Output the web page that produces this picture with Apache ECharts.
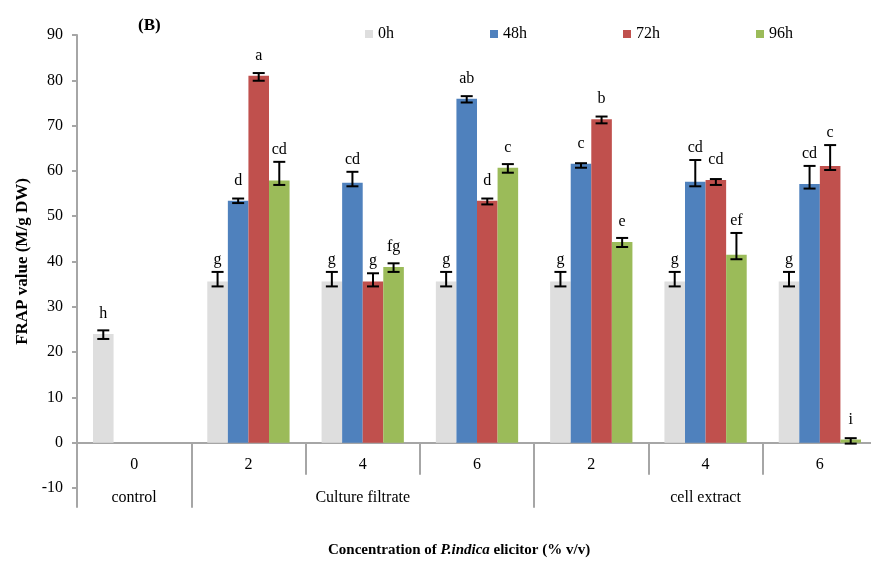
<!DOCTYPE html>
<html>
<head>
<meta charset="utf-8">
<script src="https://cdn.jsdelivr.net/npm/echarts@6/dist/echarts.min.js"></script>
<style>
html,body{margin:0;padding:0;background:#fff;}
#chart{width:871px;height:563px;}
</style>
</head>
<body>
<div id="chart"></div>
<script>
// ---- data ----
const concLabels = ['0', '2', '4', '6', '2', '4', '6'];
const groupNames = ['control', 'Culture filtrate', 'cell extract'];
const groupSpans = [1, 3, 3];
const seriesNames = ['0h', '48h', '72h', '96h'];

const v0h  = [24.0, 35.6, 35.6, 35.6, 35.6, 35.6, 35.6];
const v48h = [null, 53.4, 57.4, 75.9, 61.6, 57.6, 57.1];
const v72h = [null, 81.0, 35.6, 53.4, 71.4, 58.0, 61.1];
const v96h = [null, 57.9, 38.8, 60.7, 44.3, 41.5, 0.7];

// error bar ends (low, high)
const lo0h  = [22.9, 34.5, 34.5, 34.5, 34.5, 34.5, 34.5];
const hi0h  = [24.8, 37.7, 37.7, 37.7, 37.7, 37.7, 37.7];
const lo48h = [null, 52.9, 56.6, 75.1, 60.7, 56.6, 56.1];
const hi48h = [null, 53.9, 59.8, 76.5, 61.7, 62.4, 61.1];
const lo72h = [null, 79.9, 34.5, 52.6, 70.5, 56.9, 60.2];
const hi72h = [null, 81.6, 37.4, 53.9, 72.0, 58.2, 65.7];
const lo96h = [null, 56.9, 37.7, 59.6, 43.2, 40.5, -0.2];
const hi96h = [null, 62.0, 39.6, 61.5, 45.2, 46.3, 1.0];

// significance letters
const let0h  = ['h', 'g', 'g', 'g', 'g', 'g', 'g'];
const let48h = [null, 'd', 'cd', 'ab', 'c', 'cd', 'cd'];
const let72h = [null, 'a', 'g', 'd', 'b', 'cd', 'c'];
const let96h = [null, 'cd', 'fg', 'c', 'e', 'ef', 'i'];

const yTicks = {min: -10, max: 90, interval: 10};

// ---- build ----
const values = [v0h, v48h, v72h, v96h];
const lows = [lo0h, lo48h, lo72h, lo96h];
const highs = [hi0h, hi48h, hi72h, hi96h];
const letters = [let0h, let48h, let72h, let96h];
const colors = ['#DEDEDE', '#4F81BD', '#C0504D', '#9BBB59'];
const CAT_GAP = 0.28;
const FONT = 'Liberation Serif';

// group label per category (centered in span) and boundary indices
const groupLabelAt = concLabels.map(() => '');
const boundaries = [];
let start = 0;
groupSpans.forEach((span, g) => {
  boundaries.push(start);
  groupLabelAt[start + Math.floor((span - 1) / 2)] = groupNames[g];
  start += span;
});
const catIdx = concLabels.map((_, i) => i);

const series = [];
seriesNames.forEach((name, k) => {
  series.push({
    name: name,
    type: 'bar',
    data: values[k],
    barGap: '0%',
    barCategoryGap: (CAT_GAP * 100) + '%',
    itemStyle: {color: colors[k]},
    silent: true
  });
});
seriesNames.forEach((name, k) => {
  const data = [];
  values[k].forEach((v, i) => {
    if (v !== null) data.push([i, v, lows[k][i], highs[k][i]]);
  });
  series.push({
    type: 'custom',
    silent: true,
    z: 10,
    data: data,
    encode: {x: 0, y: 1},
    renderItem: function (params, api) {
      const ci = api.value(0);
      const v = api.value(1);
      const lo = api.value(2);
      const hi = api.value(3);
      const band = api.size([1, 0])[0];
      const barW = band * (1 - CAT_GAP) / 4;
      const cx = api.coord([ci, 0])[0] + (k - 1.5) * barW;
      const yTop = api.coord([ci, v])[1];
      const yLo = api.coord([ci, lo])[1];
      const yHi = api.coord([ci, hi])[1];
      const cap = 6;
      const ls = {stroke: '#000', lineWidth: 2};
      const txt = letters[k][ci];
      const ty = Math.min(yTop - 20, yHi - 12);
      return {
        type: 'group',
        children: [
          {type: 'line', shape: {x1: cx, y1: yLo, x2: cx, y2: yHi}, style: ls},
          {type: 'line', shape: {x1: cx - cap, y1: yLo, x2: cx + cap, y2: yLo}, style: ls},
          {type: 'line', shape: {x1: cx - cap, y1: yHi, x2: cx + cap, y2: yHi}, style: ls},
          {type: 'text', style: {text: txt, x: cx, y: ty, align: 'center', verticalAlign: 'middle',
            font: '16px "' + FONT + '"', fill: '#000'}}
        ]
      };
    }
  });
});

const axisGray = '#A6A6A6';
const chart = echarts.init(document.getElementById('chart'), null, {renderer: 'canvas'});
chart.setOption({
  animation: false,
  textStyle: {fontFamily: FONT},
  title: [
    {text: '(B)', left: 133, top: 12,
      textStyle: {fontFamily: FONT, fontWeight: 'bold', fontSize: 17, color: '#000'}},
    {text: '{b|Concentration of }{bi|P.indica}{b| elicitor (% v/v)}', left: 323, top: 538,
      textStyle: {rich: {
        b: {fontFamily: FONT, fontWeight: 'bold', fontSize: 15, color: '#000'},
        bi: {fontFamily: FONT, fontWeight: 'bold', fontStyle: 'italic', fontSize: 15, color: '#000'}
      }}}
  ],
  legend: {
    data: seriesNames,
    left: 360, top: 21,
    itemWidth: 8, itemHeight: 8, itemGap: 96,
    icon: 'rect',
    textStyle: {fontFamily: FONT, fontSize: 16, color: '#000'}
  },
  grid: {left: 77, top: 35, width: 800, height: 453, containLabel: false, outerBoundsMode: 'none'},
  xAxis: [
    {
      type: 'category', data: catIdx, position: 'bottom',
      axisLine: {show: true, onZero: true, onZeroAxisIndex: 0, lineStyle: {color: axisGray, width: 2}},
      axisTick: {show: true, length: 32, lineStyle: {color: axisGray, width: 2}},
      axisLabel: {margin: -31, fontFamily: FONT, fontSize: 16, color: '#000',
        formatter: (val, i) => concLabels[i]},
      splitLine: {show: false}
    },
    {
      type: 'category', data: catIdx, position: 'bottom',
      axisLine: {show: false, onZero: true, onZeroAxisIndex: 0},
      axisTick: {show: true, length: 65, lineStyle: {color: axisGray, width: 2},
        interval: (i) => boundaries.indexOf(i) >= 0},
      axisLabel: {margin: 2, fontFamily: FONT, fontSize: 16, color: '#000',
        interval: (i) => groupLabelAt[i] !== '',
        formatter: (val, i) => groupLabelAt[i]},
      splitLine: {show: false}
    }
  ],
  yAxis: {
    type: 'value', min: yTicks.min, max: yTicks.max, interval: yTicks.interval,
    name: 'FRAP value (M/g DW)', nameLocation: 'middle', nameGap: 46,
    nameTextStyle: {fontFamily: FONT, fontWeight: 'bold', fontSize: 17, color: '#000'},
    axisLine: {show: true, lineStyle: {color: axisGray, width: 2}},
    axisTick: {show: true, length: 5, lineStyle: {color: axisGray, width: 2}},
    axisLabel: {margin: 14, fontFamily: FONT, fontSize: 16, color: '#000'},
    splitLine: {show: false}
  },
  series: series
});
</script>
</body>
</html>
